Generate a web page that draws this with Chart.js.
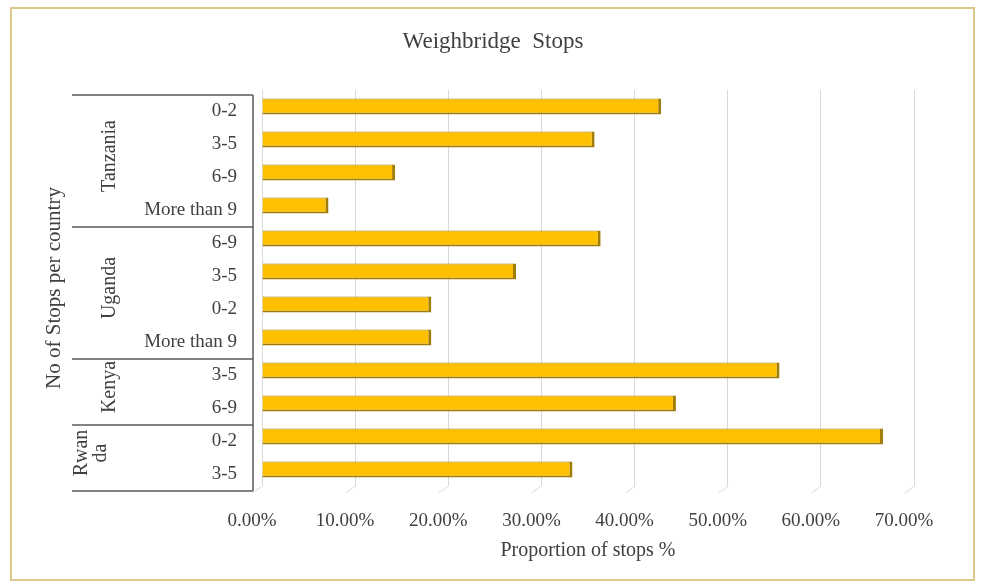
<!DOCTYPE html>
<html>
<head>
<meta charset="utf-8">
<script src="https://cdn.jsdelivr.net/npm/chart.js@4/dist/chart.umd.min.js"></script>
<style>
  html, body { margin: 0; padding: 0; background: #ffffff; }
  #wrap { position: relative; width: 982px; height: 585px; }
  #frame { position: absolute; left: 10px; top: 7px; width: 965px; height: 574px;
           border: 2px solid #dcc78c; box-sizing: border-box; pointer-events: none; }
  canvas { display: block; }
</style>
</head>
<body>
<div id="wrap">
  <canvas id="chart" width="982" height="585"></canvas>
  <div id="frame"></div>
</div>
<script>
// Stop-count bands, listed top to bottom, grouped by country
const stopBands = ['0-2', '3-5', '6-9', 'More than 9',
                   '6-9', '3-5', '0-2', 'More than 9',
                   '3-5', '6-9',
                   '0-2', '3-5'];
// Share of trucks (%) in each band
const stopShares = [42.86, 35.71, 14.29, 7.14,
                    36.36, 27.27, 18.18, 18.18,
                    55.56, 44.44,
                    66.67, 33.33];
// Country groups and how many bands each covers
const countries = [['Tanzania'], ['Uganda'], ['Kenya'], ['Rwan', 'da']];
const groupSizes = [4, 4, 2, 2];
// Axis ticks (%)
const xTicks = [0, 10, 20, 30, 40, 50, 60, 70];
const chartTitle = 'Weighbridge  Stops';

const SERIF = '"Liberation Serif", "Times New Roman", serif';
const TEXT = '#404040';
const DEPTH_X = 9;   // floor depth of the 3-D plot, horizontal
const DEPTH_Y = 5;   // floor depth of the 3-D plot, vertical

// Title, floor slants under the gridlines and the category table on the left
const tablePlugin = {
  id: 'categoryTable',
  beforeDatasetsDraw(chart) {
    const { ctx, chartArea, scales: { x } } = chart;
    ctx.save();
    ctx.strokeStyle = '#d9d9d9';
    ctx.lineWidth = 1;
    xTicks.forEach(v => {
      const px = Math.round(x.getPixelForValue(v)) + 0.5;
      ctx.beginPath();
      ctx.moveTo(px, chartArea.bottom);
      ctx.lineTo(px - DEPTH_X - 1, chartArea.bottom + DEPTH_Y + 2);
      ctx.stroke();
    });
    ctx.restore();
  },
  afterDraw(chart) {
    const { ctx, chartArea } = chart;
    const band = (chartArea.bottom - chartArea.top) / stopBands.length;
    const frontX = chartArea.left - DEPTH_X;
    const leftX = 72;
    ctx.save();
    // chart title
    ctx.fillStyle = TEXT;
    ctx.font = '23px ' + SERIF;
    ctx.textAlign = 'center';
    ctx.textBaseline = 'middle';
    ctx.fillText(chartTitle, 493, 42);

    ctx.strokeStyle = '#595959';
    ctx.lineWidth = 1.5;
    // front vertical edge of the category axis
    ctx.beginPath();
    ctx.moveTo(frontX, chartArea.top + DEPTH_Y);
    ctx.lineTo(frontX, chartArea.bottom + DEPTH_Y);
    ctx.stroke();
    // group separators and country names
    let start = 0;
    const edges = [0];
    groupSizes.forEach(n => { start += n; edges.push(start); });
    edges.forEach(i => {
      const py = chartArea.top + i * band + DEPTH_Y;
      ctx.beginPath();
      ctx.moveTo(leftX, py);
      ctx.lineTo(frontX, py);
      ctx.stroke();
    });
    ctx.font = '20px ' + SERIF;
    countries.forEach((lines, g) => {
      const midY = chartArea.top + ((edges[g] + edges[g + 1]) / 2) * band;
      const lh = 19;
      const cx = lines.length > 1 ? 82 : 110;
      ctx.save();
      ctx.translate(cx, midY);
      ctx.rotate(-Math.PI / 2);
      lines.forEach((t, k) => ctx.fillText(t, 0, k * lh));
      ctx.restore();
    });
    ctx.restore();
  }
};

new Chart(document.getElementById('chart'), {
  type: 'bar',
  data: {
    labels: stopBands,
    datasets: [{
      data: stopShares,
      backgroundColor: '#ffc000',
      borderColor: '#a07d06',
      borderWidth: { top: 1, right: 3, bottom: 2, left: 0 },
      borderSkipped: false,
      categoryPercentage: 1,
      barPercentage: 0.48
    }]
  },
  options: {
    indexAxis: 'y',
    responsive: false,
    animation: false,
    layout: { padding: { left: 0, right: 68, top: 90, bottom: 0 } },
    plugins: {
      legend: { display: false },
      tooltip: { enabled: false },
      title: { display: false }
    },
    scales: {
      x: {
        min: 0,
        max: 70,
        afterBuildTicks(scale) { scale.ticks = xTicks.map(v => ({ value: v })); },
        afterFit(scale) { scale.height = 99; },
        grid: { color: '#d9d9d9', lineWidth: 1, drawTicks: false },
        border: { display: false },
        ticks: {
          color: TEXT,
          font: { family: SERIF, size: 19 },
          padding: 24,
          labelOffset: -DEPTH_X - 1,
          maxRotation: 0,
          callback: v => Number(v).toFixed(2) + '%'
        },
        title: {
          display: true,
          text: 'Proportion of stops %',
          color: TEXT,
          font: { family: SERIF, size: 20, lineHeight: 1.2 },
          padding: { top: 0, bottom: 22 }
        }
      },
      y: {
        afterFit(scale) { scale.width = 262; },
        grid: { display: false, drawTicks: false },
        border: { display: false },
        ticks: {
          color: TEXT,
          font: { family: SERIF, size: 19 },
          padding: 25,
          labelOffset: DEPTH_Y
        },
        title: {
          display: true,
          text: 'No of Stops per country',
          color: TEXT,
          font: { family: SERIF, size: 21, lineHeight: 1.2 },
          padding: { top: 42, bottom: 0 }
        }
      }
    }
  },
  plugins: [tablePlugin]
});
</script>
</body>
</html>
